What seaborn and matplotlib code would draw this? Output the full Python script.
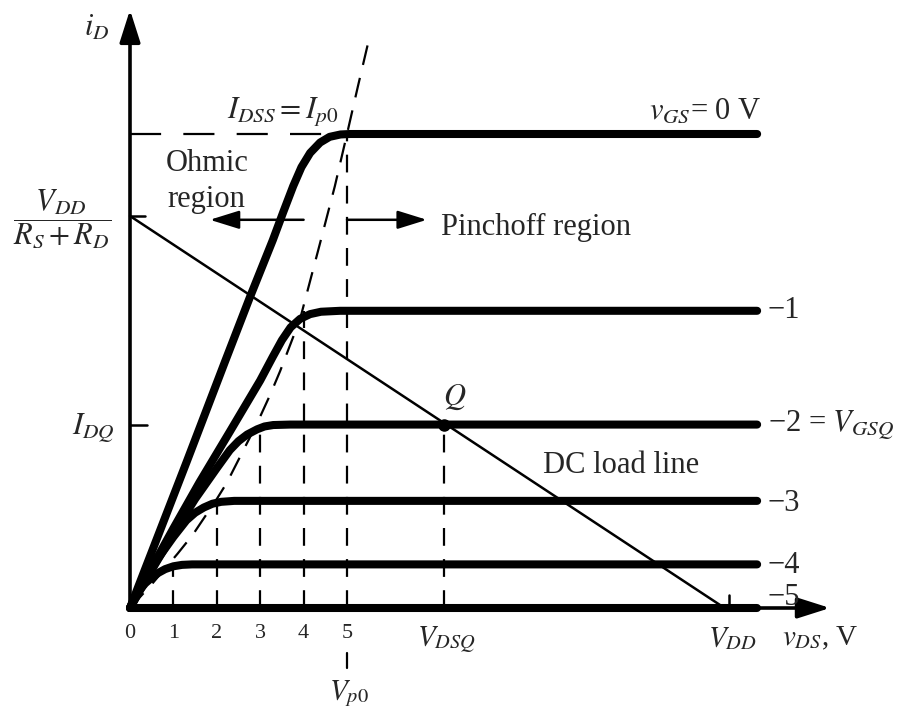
import pandas as pd
import seaborn as sns
from matplotlib import pyplot as plt

# output characteristics (vDS in V, iD in units of IDSS/10)
vds_0 = [0, 0.5, 1.3, 2.19, 2.76, 3.29, 3.53, 3.76, 3.95, 4.15, 4.38, 4.6, 4.85, 5.07, 14.45]
id_0 = [0, 1.18, 3.07, 5.2, 6.55, 7.76, 8.35, 8.9, 9.3, 9.6, 9.82, 9.94, 9.99, 10.0, 10.0]
vds_1 = [0, 0.5, 1.0, 1.6, 2.3, 3.0, 3.29, 3.5, 3.7, 3.92, 4.15, 4.4, 4.84, 14.45]
id_1 = [0, 0.85, 1.68, 2.65, 3.72, 4.8, 5.3, 5.65, 5.92, 6.1, 6.2, 6.25, 6.27, 6.27]
vds_2 = [0, 0.5, 1.0, 1.5, 2.0, 2.3, 2.5, 2.7, 2.93, 3.1, 3.3, 3.69, 14.45]
id_2 = [0, 0.8, 1.57, 2.3, 2.95, 3.33, 3.52, 3.66, 3.77, 3.83, 3.86, 3.87, 3.87]
vds_3 = [0, 0.3, 0.65, 1.0, 1.3, 1.5, 1.7, 1.9, 2.1, 2.4, 14.45]
id_3 = [0, 0.52, 1.05, 1.5, 1.85, 2.01, 2.12, 2.2, 2.24, 2.26, 2.26]
vds_4 = [0, 0.15, 0.35, 0.5, 0.65, 0.81, 1.0, 1.2, 1.43, 14.45]
id_4 = [0, 0.3, 0.52, 0.64, 0.74, 0.82, 0.88, 0.91, 0.92, 0.92]
vds_5 = [0, 14.45]
id_5 = [0, 0]
vgs_levels = [0, -1, -2, -3, -4, -5]
curve_labels = ['−1', '−2 = $V_{GSQ}$', '−3', '−4', '−5']

# pinch-off locus (dashed)
vp_x = [0, 0.5, 1.1, 1.45, 2.0, 2.23, 2.93, 3.23, 3.46, 3.92, 4.38, 4.72, 5.0, 5.25, 5.53]
vp_y = [0, 0.5, 1.15, 1.55, 2.3, 2.64, 3.9, 4.5, 5.0, 6.1, 7.7, 8.9, 10.0, 11.0, 12.09]

# operating point and load line
IDSS = 10.0
ID_MAX = 8.27   # VDD/(RS+RD)
VDD = 13.7
VDSQ = 7.24
IDQ = 3.87
knee_x = [1, 2, 3, 4]
knee_y = [0.92, 2.26, 3.87, 6.27]
tick_vals = [0, 1, 2, 3, 4, 5]

frames = []
for v, xs, ys in zip(vgs_levels, [vds_0, vds_1, vds_2, vds_3, vds_4, vds_5],
                     [id_0, id_1, id_2, id_3, id_4, id_5]):
    frames.append(pd.DataFrame({'vds': xs, 'id': ys, 'vgs': v}))
df = pd.concat(frames, ignore_index=True)

sns.set_theme(style='white')
plt.rcParams['font.family'] = ['Liberation Serif', 'DejaVu Serif']
plt.rcParams['mathtext.fontset'] = 'stix'

fig = plt.figure(figsize=(9.04, 7.14), dpi=100)
ax = fig.add_axes([0, 0, 1, 1])
ax.set_xlim(-130 / 43.4, 774 / 43.4)
ax.set_ylim(-106 / 47.4, 608 / 47.4)
ax.axis('off')

k = dict(color='black', shrinkA=0, shrinkB=0)
# axes with arrows
ax.annotate('', xy=(0, 12.62), xytext=(0, 0),
            arrowprops=dict(arrowstyle='-|>,head_length=1.1,head_width=0.35', lw=2.6,
                            mutation_scale=18, **k))
ax.annotate('', xy=(16.13, 0), xytext=(0, 0),
            arrowprops=dict(arrowstyle='-|>,head_length=1.1,head_width=0.35', lw=2.6,
                            mutation_scale=18, **k))

# dashed guides
ax.plot(vp_x, vp_y, color='black', lw=1.6, dashes=(9, 6))
ax.plot([0, 4.6], [IDSS, IDSS], color='black', lw=1.6, dashes=(14, 10))
for x0, y0 in zip(knee_x, knee_y):
    ax.plot([x0, x0], [0, y0], color='black', lw=1.6, dashes=(8, 6))
ax.plot([5, 5], [0, IDSS], color='black', lw=1.6, dashes=(8, 6))
ax.plot([5, 5], [-0.95, -1.27], color='black', lw=1.6)
ax.plot([VDSQ, VDSQ], [0, IDQ], color='black', lw=1.6, dashes=(8, 6))

# characteristic curves
sns.lineplot(data=df, x='vds', y='id', units='vgs', estimator=None, sort=False,
             color='black', linewidth=5.8, solid_capstyle='round',
             solid_joinstyle='round', legend=False, ax=ax)

# load line and Q point
sns.lineplot(x=[0, VDD], y=[ID_MAX, 0], color='black', linewidth=1.8, ax=ax)
ax.plot([VDSQ], [IDQ], 'o', color='black', markersize=8)
ax.axis('off')

# small ticks
ax.plot([0, 0.35], [ID_MAX, ID_MAX], color='black', lw=1.8)
ax.plot([0, 0.4], [IDQ, IDQ], color='black', lw=1.8)
ax.plot([VDD + 0.1, VDD + 0.1], [0, 0.28], color='black', lw=1.8)

# region arrows
ax.annotate('', xy=(1.84, 8.19), xytext=(4.0, 8.19),
            arrowprops=dict(arrowstyle='-|>,head_length=0.9,head_width=0.28', lw=1.8,
                            mutation_scale=20, **k))
ax.annotate('', xy=(6.84, 8.19), xytext=(5.0, 8.19),
            arrowprops=dict(arrowstyle='-|>,head_length=0.9,head_width=0.28', lw=1.8,
                            mutation_scale=20, **k))

fs = 22
ax.text(-0.76, 12.24, '$i_D$', fontsize=fs, ha='center', va='center')
ax.text(3.52, 10.34, '$I_{DSS} = I_{p0}$', fontsize=fs, ha='center', va='baseline')
ax.text(1.77, 9.0, 'Ohmic\nregion', fontsize=fs, ha='center', va='center',
        linespacing=1.3)
ax.text(7.17, 8.02, 'Pinchoff region', fontsize=fs, ha='left', va='center')
ax.text(14.56, 10.32, '$v_{GS}$= 0 V', fontsize=fs, ha='right', va='baseline')
for lab, yv in zip(curve_labels, [6.27, 3.87, 2.2, 0.89, 0.22]):
    ax.text(14.7, yv, lab, fontsize=fs, ha='left', va='center')
ax.text(7.49, 4.45, '$Q$', fontsize=fs, ha='center', va='center')
ax.text(11.31, 3.0, 'DC load line', fontsize=fs, ha='center', va='center')
ax.text(-0.35, 3.8, '$I_{DQ}$', fontsize=fs, ha='right', va='center')
ax.text(-1.57, 8.2, r'$\dfrac{V_{DD}}{R_S + R_D}$', fontsize=fs, ha='center', va='center')
for t in tick_vals:
    ax.text(t, -0.53, str(t), fontsize=16, ha='center', va='center')
ax.text(VDSQ + 0.05, -0.36, '$V_{DSQ}$', fontsize=21, ha='center', va='top')
ax.text(13.87, -0.36, '$V_{DD}$', fontsize=21, ha='center', va='top')
ax.text(15.02, -0.36, '$v_{DS}$, V', fontsize=21, ha='left', va='top')
ax.text(5.05, -1.48, '$V_{p0}$', fontsize=21, ha='center', va='top')

fig.savefig('out.png', dpi=100)
